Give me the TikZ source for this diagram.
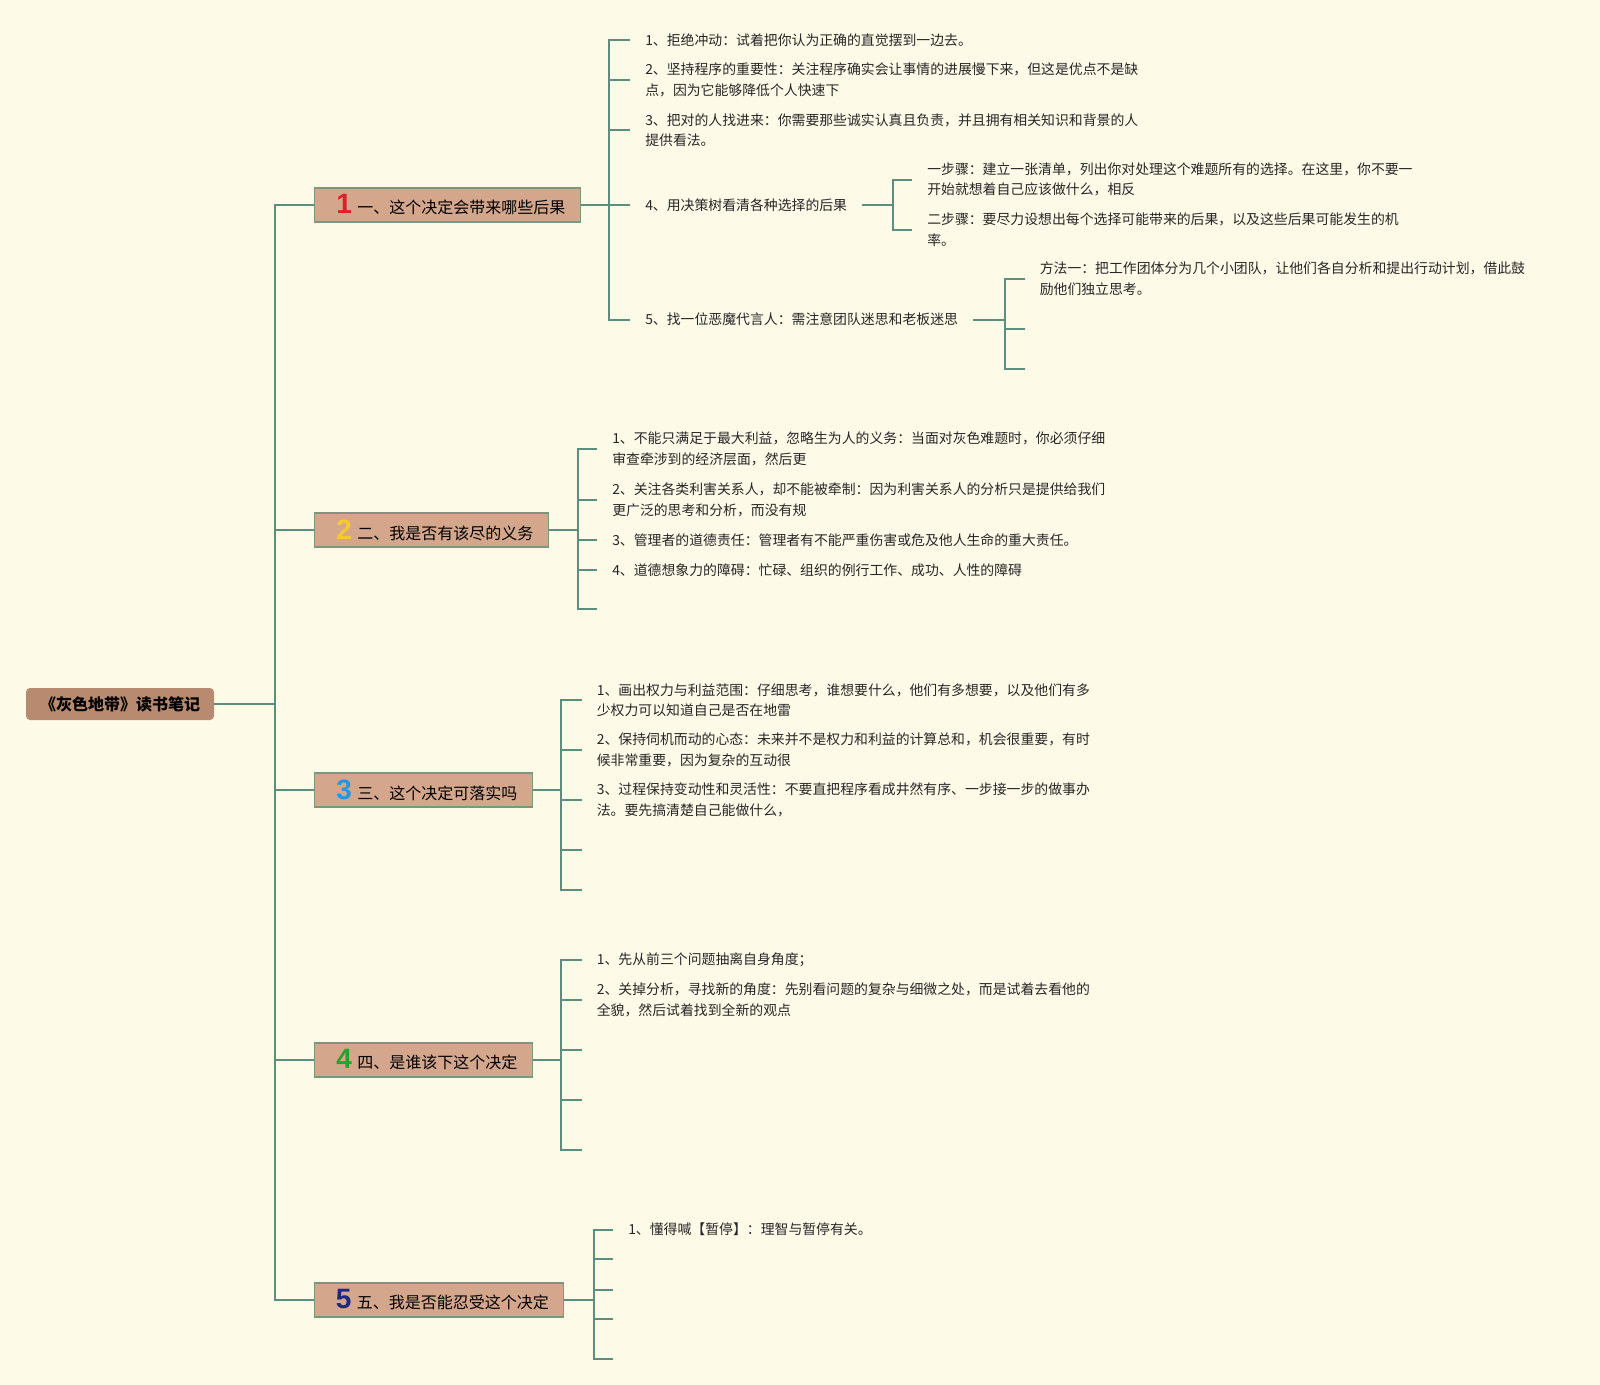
\documentclass[tikz,border=0pt]{standalone}
\usepackage{fontspec}
\setmainfont{Noto Sans CJK SC}
\newfontfamily\numfont{Liberation Sans}
\usepackage{xcolor}
\usepackage{tikz}
\usetikzlibrary{positioning,calc}
\definecolor{paper}{RGB}{254,250,232}
\definecolor{linkc}{RGB}{92,142,128}
\definecolor{rootc}{RGB}{184,138,111}
\definecolor{boxc}{RGB}{212,167,141}
\definecolor{boxline}{RGB}{125,150,130}
\definecolor{numred}{RGB}{226,30,45}
\definecolor{numyellow}{RGB}{246,200,50}
\definecolor{numblue}{RGB}{40,150,220}
\definecolor{numgreen}{RGB}{40,160,45}
\definecolor{numnavy}{RGB}{30,40,130}
\newcommand{\numicon}[2]{\hspace*{5pt}{\numfont\bfseries\fontsize{21}{21}\selectfont\textcolor{#1}{#2}}\hspace{4pt}}
\tikzset{
  rootbox/.style={fill=rootc, rounded corners=3pt, minimum width=141pt, minimum height=24pt,
                  inner sep=0pt, font=\bfseries\fontsize{12}{14}\selectfont},
  branch/.style={draw=boxline, fill=boxc, line width=0.8pt, minimum height=25.5pt,
                 anchor=west, inner xsep=8pt, inner ysep=0pt, font=\fontsize{12}{14}\selectfont},
  item/.style={anchor=west, align=left, inner xsep=11.25pt, inner ysep=1pt,
               font=\fontsize{10.4}{15.3}\selectfont, text=black!85},
  link/.style={linkc, line width=1.5pt}
}

\begin{document}
\begin{tikzpicture}[x=0.75pt, y=-0.75pt]
\fill[paper] (0,0) rectangle (1600,1385);
\useasboundingbox (0,0) rectangle (1600,1385);
% root and the five questions
\node[rootbox] (root) at (120,704) {《灰色地带》读书笔记};
\node[branch, minimum width=199.5pt] (b1) at (314,205) {\numicon{numred}{1}一、这个决定会带来哪些后果};
\node[branch, minimum width=175.5pt] (b2) at (314,530) {\numicon{numyellow}{2}二、我是否有该尽的义务};
\node[branch, minimum width=163.5pt] (b3) at (314,790) {\numicon{numblue}{3}三、这个决定可落实吗};
\node[branch, minimum width=163.5pt] (b4) at (314,1060) {\numicon{numgreen}{4}四、是谁该下这个决定};
\node[branch, minimum width=186.75pt] (b5) at (314,1300) {\numicon{numnavy}{5}五、我是否能忍受这个决定};
\coordinate (trunk) at (274.5,704);
\draw[link] (root) -- (trunk);
\draw[link] (b1.west) -| (trunk) |- (b5.west);
\draw[link] (trunk |- b2.west) -- (b2.west);
\draw[link] (trunk |- b3.west) -- (b3.west);
\draw[link] (trunk |- b4.west) -- (b4.west);

% question 1
\node[item] (b1i1) at (630,40) {1、拒绝冲动：试着把你认为正确的直觉摆到一边去。};
\node[item] (b1i2) at (630,80) {2、坚持程序的重要性：关注程序确实会让事情的进展慢下来，但这是优点不是缺\\点，因为它能够降低个人快速下};
\node[item] (b1i3) at (630,130) {3、把对的人找进来：你需要那些诚实认真且负责，并且拥有相关知识和背景的人\\提供看法。};
\node[item] (b1i4) at (630,205) {4、用决策树看清各种选择的后果};
\node[item] (b1i5) at (630,319.5) {5、找一位恶魔代言人：需注意团队迷思和老板迷思};
\coordinate (s1) at (609,205);
\draw[link] (b1.east) -- (s1);
\draw[link] (b1i1.west) -| (s1) |- (b1i5.west);
\draw[link] (s1 |- b1i2.west) -- (b1i2.west);
\draw[link] (s1 |- b1i3.west) -- (b1i3.west);
\draw[link] (s1 |- b1i4.west) -- (b1i4.west);
\node[item] (b1s1) at (912,179.6) {一步骤：建立一张清单，列出你对处理这个难题所有的选择。在这里，你不要一\\开始就想着自己应该做什么，相反};
\node[item] (b1s2) at (912,229.6) {二步骤：要尽力设想出每个选择可能带来的后果，以及这些后果可能发生的机\\率。};
\coordinate (t4) at (893,205);
\draw[link] (b1i4.east) -- (t4);
\draw[link] (b1s1.west) -| (t4) |- (b1s2.west);
\node[item] (b1m1) at (1024.5,278.6) {方法一：把工作团体分为几个小团队，让他们各自分析和提出行动计划，借此鼓\\励他们独立思考。};
\coordinate (t5) at (1005,319.5);
\coordinate (b1e2) at (1024.5,328.6);
\coordinate (b1e3) at (1024.5,369.4);
\draw[link] (b1i5.east) -- (t5);
\draw[link] (b1m1.west) -| (t5) |- (b1e3);
\draw[link] (t5 |- b1e2) -- (b1e2);

% question 2
\node[item] (b2i1) at (597,449) {1、不能只满足于最大利益，忽略生为人的义务：当面对灰色难题时，你必须仔细\\审查牵涉到的经济层面，然后更};
\node[item] (b2i2) at (597,500) {2、关注各类利害关系人，却不能被牵制：因为利害关系人的分析只是提供给我们\\更广泛的思考和分析，而没有规};
\node[item] (b2i3) at (597,539.8) {3、管理者的道德责任：管理者有不能严重伤害或危及他人生命的重大责任。};
\node[item] (b2i4) at (597,570.4) {4、道德想象力的障碍：忙碌、组织的例行工作、成功、人性的障碍};
\coordinate (b2e5) at (597,609.2);
\coordinate (s2) at (577.6,530);
\draw[link] (b2.east) -- (s2);
\draw[link] (b2i1.west) -| (s2) |- (b2e5);
\draw[link] (s2 |- b2i2.west) -- (b2i2.west);
\draw[link] (s2 |- b2i3.west) -- (b2i3.west);
\draw[link] (s2 |- b2i4.west) -- (b2i4.west);

% question 3
\node[item] (b3i1) at (581.6,700) {1、画出权力与利益范围：仔细思考，谁想要什么，他们有多想要，以及他们有多\\少权力可以知道自己是否在地雷};
\node[item] (b3i2) at (581.6,750) {2、保持伺机而动的心态：未来并不是权力和利益的计算总和，机会很重要，有时\\候非常重要，因为复杂的互动很};
\node[item] (b3i3) at (581.6,800) {3、过程保持变动性和灵活性：不要直把程序看成井然有序、一步接一步的做事办\\法。要先搞清楚自己能做什么，};
\coordinate (b3e4) at (581.6,850);
\coordinate (b3e5) at (581.6,889.8);
\coordinate (s3) at (561,790);
\draw[link] (b3.east) -- (s3);
\draw[link] (b3i1.west) -| (s3) |- (b3e5);
\draw[link] (s3 |- b3i2.west) -- (b3i2.west);
\draw[link] (s3 |- b3i3.west) -- (b3i3.west);
\draw[link] (s3 |- b3e4) -- (b3e4);

% question 4
\node[item] (b4i1) at (581.6,960) {1、先从前三个问题抽离自身角度；};
\node[item] (b4i2) at (581.6,1000) {2、关掉分析，寻找新的角度：先别看问题的复杂与细微之处，而是试着去看他的\\全貌，然后试着找到全新的观点};
\coordinate (b4e3) at (581.6,1050);
\coordinate (b4e4) at (581.6,1100);
\coordinate (b4e5) at (581.6,1150);
\coordinate (s4) at (561,1060);
\draw[link] (b4.east) -- (s4);
\draw[link] (b4i1.west) -| (s4) |- (b4e5);
\draw[link] (s4 |- b4i2.west) -- (b4i2.west);
\draw[link] (s4 |- b4e3) -- (b4e3);
\draw[link] (s4 |- b4e4) -- (b4e4);

% question 5
\node[item] (b5i1) at (613,1229.6) {1、懂得喊【暂停】：理智与暂停有关。};
\coordinate (b5e2) at (613,1259);
\coordinate (b5e3) at (613,1289.8);
\coordinate (b5e4) at (613,1319);
\coordinate (b5e5) at (613,1359);
\coordinate (s5) at (594,1300);
\draw[link] (b5.east) -- (s5);
\draw[link] (b5i1.west) -| (s5) |- (b5e5);
\draw[link] (s5 |- b5e2) -- (b5e2);
\draw[link] (s5 |- b5e3) -- (b5e3);
\draw[link] (s5 |- b5e4) -- (b5e4);
\end{tikzpicture}
\end{document}
